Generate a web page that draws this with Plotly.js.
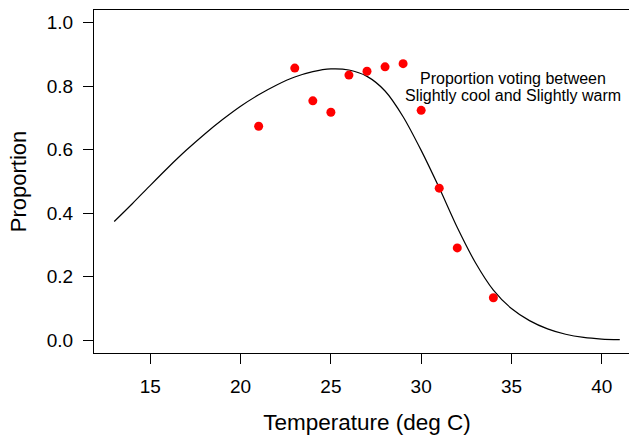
<!DOCTYPE html>
<html>
<head>
<meta charset="utf-8">
<script src="https://cdn.plot.ly/plotly-3.0.1.min.js"></script>
<style>
html, body { margin: 0; padding: 0; overflow: hidden; background: #fff; }
#chart { width: 650px; height: 439px; }
</style>
</head>
<body>
<div id="chart"></div>
<script>
// Observed proportions
const obsTemp = [21, 23, 24, 25, 26, 27, 28, 29, 30, 31, 32, 34];
const obsProp = [0.674, 0.857, 0.754, 0.718, 0.835, 0.847, 0.861, 0.871, 0.724, 0.479, 0.291, 0.134];

// Fitted curve
const fitTemp = [13, 14, 15, 16, 17, 18, 19, 20, 21, 22, 23, 24, 25, 26, 27, 28, 29, 30, 31, 32, 33, 34, 35, 36, 37, 38, 39, 40, 41];
const fitProp = [0.374, 0.430, 0.488, 0.545, 0.599, 0.649, 0.695, 0.737, 0.773, 0.804, 0.829, 0.846, 0.8545, 0.851, 0.831, 0.785, 0.704, 0.598, 0.480, 0.355, 0.245, 0.158, 0.100, 0.062, 0.036, 0.019, 0.009, 0.004, 0.002];

const xTicks = [15, 20, 25, 30, 35, 40];
const yTicks = [0.0, 0.2, 0.4, 0.6, 0.8, 1.0];

const annLines = ["Proportion voting between", "Slightly cool and Slightly warm"];
const annY = [0.824, 0.771];

const FONT = "Liberation Sans, Arial, Helvetica, sans-serif";

const traces = [
  {
    x: fitTemp, y: fitProp, type: "scatter", mode: "lines",
    line: { color: "#000", width: 1.2, shape: "spline", smoothing: 0.8 },
    hoverinfo: "skip", showlegend: false
  },
  {
    x: obsTemp, y: obsProp, type: "scatter", mode: "markers",
    marker: { color: "#ff0000", size: 9 },
    showlegend: false
  }
];

const axisCommon = {
  showgrid: false, zeroline: false,
  showline: true, linecolor: "#000", linewidth: 1, mirror: true,
  ticks: "outside", ticklen: 10, tickcolor: "#000", tickwidth: 1,
  tickfont: { family: FONT, size: 19, color: "#000" }
};

const layout = {
  width: 650, height: 439,
  margin: { l: 94, r: 10, t: 10, b: 86 },
  paper_bgcolor: "#fff", plot_bgcolor: "#fff",
  font: { family: FONT, color: "#000" },
  xaxis: Object.assign({}, axisCommon, {
    range: [11.88, 42.12],
    tickvals: xTicks, ticktext: xTicks.map(String),
    ticklabelstandoff: 6,
    title: { text: "Temperature (deg C)", font: { family: FONT, size: 22.5, color: "#000" }, standoff: 18 }
  }),
  yaxis: Object.assign({}, axisCommon, {
    range: [-0.04, 1.04],
    tickvals: yTicks, ticktext: yTicks.map(v => v.toFixed(1)),
    ticklabelstandoff: 6,
    title: { text: "Proportion", font: { family: FONT, size: 22, color: "#000" }, standoff: 14 }
  }),
  annotations: annLines.map((t, i) => ({
    x: 35.1, y: annY[i], xref: "x", yref: "y",
    text: t, showarrow: false,
    xanchor: "center", yanchor: "middle", align: "center",
    font: { family: FONT, size: 16, color: "#000" }
  }))
};

Plotly.newPlot("chart", traces, layout, { displayModeBar: false, staticPlot: true });
</script>
</body>
</html>
